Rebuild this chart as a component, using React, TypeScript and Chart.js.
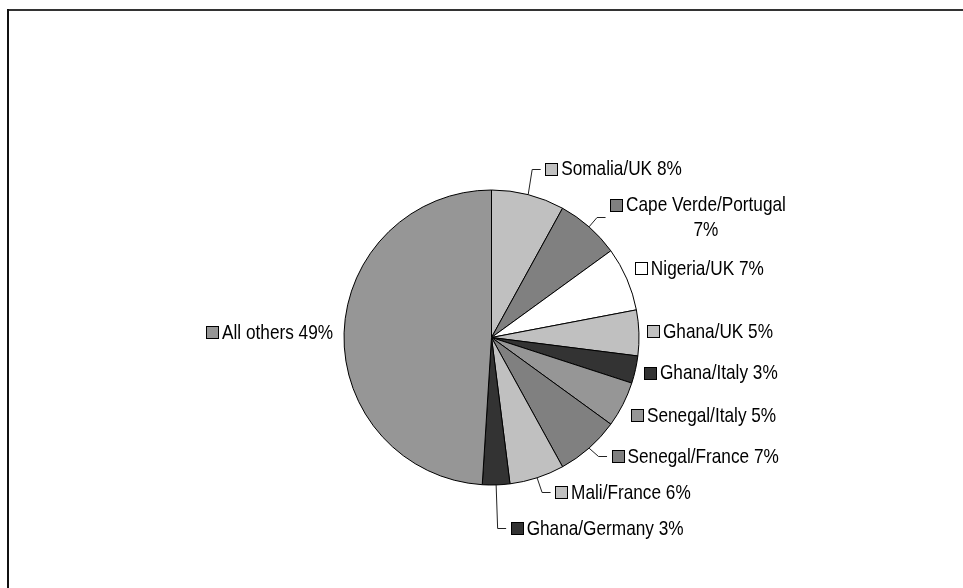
import React, { useEffect, useRef } from "react";
import { Chart, registerables } from "chart.js";

Chart.register(...registerables);

const CATEGORIES = [
  "Somalia/UK",
  "Cape Verde/Portugal",
  "Nigeria/UK",
  "Ghana/UK",
  "Ghana/Italy",
  "Senegal/Italy",
  "Senegal/France",
  "Mali/France",
  "Ghana/Germany",
  "All others",
];
const VALUES = [8, 7, 7, 5, 3, 5, 7, 6, 3, 49];
const COLORS = [
  "#c0c0c0",
  "#808080",
  "#ffffff",
  "#c0c0c0",
  "#333333",
  "#969696",
  "#808080",
  "#c0c0c0",
  "#333333",
  "#969696",
];

// label placement relative to the slice's outer mid-point (styling only)
const LABEL_OFFSETS: [number, number][] = [
  [17, -26],
  [21, -10],
  [8, -11],
  [8, -1.5],
  [8.5, 3],
  [8, 10.5],
  [22.5, 8],
  [18, 14],
  [14.5, 43],
  [-11, -0.5],
];

// Arial-metric font, horizontally condensed to mimic Arial Narrow
const FONT = '21px "Liberation Sans", Arial, sans-serif';
const NARROW = 0.82;
const SQ = 12;
const GAP = 4;
const LINE_H = 24.5;
const MAX_W = 175;

function tw(ctx: CanvasRenderingContext2D, s: string) {
  return ctx.measureText(s).width * NARROW;
}

function wrap(ctx: CanvasRenderingContext2D, text: string, maxW: number): string[] {
  if (tw(ctx, text) <= maxW) return [text];
  const words = text.split(" ");
  const lines: string[] = [];
  let cur = "";
  for (const w of words) {
    const t = cur ? cur + " " + w : w;
    if (tw(ctx, t) > maxW && cur) {
      lines.push(cur);
      cur = w;
    } else cur = t;
  }
  if (cur) lines.push(cur);
  return lines;
}

const framePlugin = {
  id: "frame",
  beforeDraw(chart: any) {
    const ctx = chart.ctx as CanvasRenderingContext2D;
    ctx.save();
    ctx.fillStyle = "#ffffff";
    ctx.fillRect(0, 0, chart.width, chart.height);
    ctx.fillStyle = "#333333";
    ctx.fillRect(7, 9, chart.width, 2);
    ctx.fillStyle = "#111111";
    ctx.fillRect(7, 9, 2, chart.height);
    ctx.restore();
  },
};

const labelPlugin = {
  id: "outsideLabels",
  afterDatasetsDraw(chart: any) {
    const ctx = chart.ctx as CanvasRenderingContext2D;
    const meta = chart.getDatasetMeta(0);
    const data = chart.data.datasets[0].data as number[];
    const colors = chart.data.datasets[0].backgroundColor as string[];
    const total = data.reduce((a, b) => a + b, 0);
    ctx.save();
    ctx.font = FONT;
    ctx.textBaseline = "middle";
    ctx.textAlign = "left";
    meta.data.forEach((el: any, i: number) => {
      const p = el.getProps(["x", "y", "startAngle", "endAngle", "outerRadius"], true);
      const mid = (p.startAngle + p.endAngle) / 2;
      const px = p.x + Math.cos(mid) * p.outerRadius;
      const py = p.y + Math.sin(mid) * p.outerRadius;
      const [dx, dy] = LABEL_OFFSETS[i];
      const ax = px + dx;
      const ay = py + dy;
      const text = `${chart.data.labels[i]} ${Math.round((data[i] / total) * 100)}%`;
      const lines = wrap(ctx, text, MAX_W);
      const blockW = Math.max(...lines.map((l) => tw(ctx, l)));
      const right = Math.cos(mid) >= 0;
      const firstY = ay - ((lines.length - 1) * LINE_H) / 2;
      let sqX: number, textX: number;
      if (right) {
        sqX = ax;
        textX = ax + SQ + GAP;
      } else {
        textX = ax - blockW;
        sqX = textX - GAP - SQ;
      }
      // legend key square
      const sx = Math.round(sqX) + 0.5;
      const sy = Math.round(firstY - SQ / 2) + 0.5;
      ctx.fillStyle = colors[i];
      ctx.fillRect(sx, sy, SQ, SQ);
      ctx.strokeStyle = "#000000";
      ctx.lineWidth = 1;
      ctx.strokeRect(sx, sy, SQ, SQ);
      // text
      ctx.fillStyle = "#000000";
      lines.forEach((ln, k) => {
        const w = tw(ctx, ln);
        ctx.save();
        ctx.translate(textX + (blockW - w) / 2, firstY + k * LINE_H + 1);
        ctx.scale(NARROW, 1);
        ctx.fillText(ln, 0, 0);
        ctx.restore();
      });
      // leader line
      if (Math.hypot(dx, dy) > 18) {
        const dir = right ? 1 : -1;
        const edge = right ? sqX : textX + blockW;
        ctx.beginPath();
        ctx.strokeStyle = "#222222";
        ctx.lineWidth = 1;
        ctx.moveTo(px, py);
        ctx.lineTo(edge - dir * 13, Math.round(ay) + 0.5);
        ctx.lineTo(edge - dir * 4.5, Math.round(ay) + 0.5);
        ctx.stroke();
      }
    });
    ctx.restore();
  },
};

export default function App() {
  const ref = useRef<HTMLCanvasElement>(null);
  useEffect(() => {
    if (!ref.current) return;
    const chart = new Chart(ref.current, {
      type: "pie",
      data: {
        labels: CATEGORIES,
        datasets: [
          {
            data: VALUES,
            backgroundColor: COLORS,
            borderColor: "#000000",
            borderWidth: 1,
          },
        ],
      },
      options: {
        responsive: false,
        animation: false,
        devicePixelRatio: 1,
        events: [],
        layout: {
          padding: { left: 343.5, right: 323.5, top: 189.5, bottom: 102.5 },
        },
        plugins: {
          legend: { display: false },
          tooltip: { enabled: false },
        },
      },
      plugins: [framePlugin, labelPlugin],
    });
    return () => chart.destroy();
  }, []);
  return (
    <canvas
      ref={ref}
      width={963}
      height={588}
      style={{ position: "fixed", left: 0, top: 0, width: 963, height: 588 }}
    />
  );
}
